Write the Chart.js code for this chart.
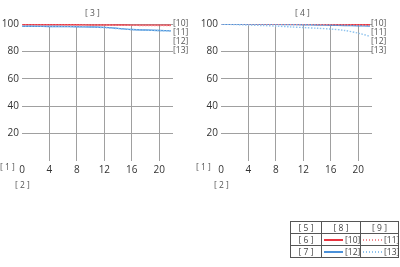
<!DOCTYPE html>
<html><head><meta charset="utf-8">
<script src="https://cdn.jsdelivr.net/npm/chart.js@4/dist/chart.umd.min.js"></script>
<style>
body{margin:0;width:400px;height:267px;background:#fff;position:relative;font-family:"Open Sans",sans-serif;color:#333;overflow:hidden}
.box{position:absolute}
.t{position:absolute;font-size:8.5px;color:#555;white-space:nowrap}
.c{position:absolute;font-size:8.5px;color:#444;white-space:nowrap;text-align:center;line-height:12px;height:12px}
.hl{position:absolute;height:1px;background:#555}
.vl{position:absolute;width:1px;background:#555}
.ln{position:absolute;height:1.5px}
</style></head><body>
<div class="box" style="left:0;top:0;width:200px;height:182px"><canvas id="c1"></canvas></div>
<div class="box" style="left:199px;top:0;width:200px;height:182px"><canvas id="c2"></canvas></div>
<div class="t" style="left:85px;top:7px">[ 3 ]</div>
<div class="t" style="left:295px;top:7px">[ 4 ]</div>
<div class="t" style="left:0px;top:161px">[ 1 ]</div>
<div class="t" style="left:15px;top:179px">[ 2 ]</div>
<div class="t" style="left:196px;top:161px">[ 1 ]</div>
<div class="t" style="left:214px;top:179px">[ 2 ]</div>
<div class="t" style="left:173px;top:17px">[10]</div>
<div class="t" style="left:173px;top:26px">[11]</div>
<div class="t" style="left:173px;top:35px">[12]</div>
<div class="t" style="left:173px;top:44px">[13]</div>
<div class="t" style="left:371px;top:17px">[10]</div>
<div class="t" style="left:371px;top:26px">[11]</div>
<div class="t" style="left:371px;top:35px">[12]</div>
<div class="t" style="left:371px;top:44px">[13]</div>
<!-- legend table -->
<div class="hl" style="left:290px;top:221px;width:109px"></div>
<div class="hl" style="left:290px;top:233px;width:109px"></div>
<div class="hl" style="left:290px;top:245px;width:109px"></div>
<div class="hl" style="left:290px;top:257px;width:109px"></div>
<div class="vl" style="left:290px;top:221px;height:37px"></div>
<div class="vl" style="left:321px;top:221px;height:37px"></div>
<div class="vl" style="left:360px;top:221px;height:37px"></div>
<div class="vl" style="left:398px;top:221px;height:37px"></div>
<div class="c" style="left:291px;top:222px;width:30px">[ 5 ]</div>
<div class="c" style="left:322px;top:222px;width:38px">[ 8 ]</div>
<div class="c" style="left:361px;top:222px;width:37px">[ 9 ]</div>
<div class="c" style="left:291px;top:234px;width:30px">[ 6 ]</div>
<div class="c" style="left:291px;top:246px;width:30px">[ 7 ]</div>
<div class="ln" style="left:324px;top:239px;width:19px;background:#e8333f"></div>
<div class="c" style="left:345px;top:234px">[10]</div>
<div class="ln" style="left:363px;top:239px;width:19px;background:repeating-linear-gradient(90deg,#f08a90 0 1.5px,transparent 1.5px 3px)"></div>
<div class="c" style="left:384px;top:234px">[11]</div>
<div class="ln" style="left:324px;top:251px;width:19px;background:#4a90d9"></div>
<div class="c" style="left:345px;top:246px">[12]</div>
<div class="ln" style="left:363px;top:251px;width:19px;background:repeating-linear-gradient(90deg,#8ec3ee 0 1.5px,transparent 1.5px 3px)"></div>
<div class="c" style="left:384px;top:246px">[13]</div>
<script>
const xs = [0, 2, 4, 6, 8, 10, 12, 14, 16, 18, 20, 21.7];
const xTicks = [0, 4, 8, 12, 16, 20];
const yTicks = [0, 20, 40, 60, 80, 100];
// chart [3]
const l_s10 = [99.4, 99.4, 99.4, 99.4, 99.4, 99.3, 99.3, 99.3, 99.2, 99.2, 99.2, 99.1];
const l_s11 = [99.2, 99.2, 99.2, 99.2, 99.1, 99.1, 99.1, 99.0, 99.0, 98.9, 98.9, 98.9];
const l_s12 = [98.3, 98.3, 98.2, 98.1, 98.0, 97.8, 97.5, 96.8, 96.0, 95.6, 95.3, 95.0];
const l_s13 = [98.6, 98.5, 98.4, 98.3, 98.1, 97.8, 97.3, 96.6, 95.9, 95.5, 95.2, 94.9];
// chart [4]
const r_s10 = [99.9, 99.9, 99.9, 99.9, 99.9, 99.9, 99.8, 99.8, 99.7, 99.6, 99.5, 99.4];
const r_s11 = [99.8, 99.8, 99.8, 99.8, 99.8, 99.7, 99.6, 99.5, 99.4, 99.3, 99.1, 99.0];
const r_s12 = [99.8, 99.8, 99.8, 99.7, 99.7, 99.6, 99.5, 99.3, 99.1, 98.9, 98.7, 98.5];
const r_s13 = [99.9, 99.6, 99.2, 98.9, 98.5, 97.9, 97.4, 96.9, 96.3, 95.3, 93.3, 91.0];

const C10='#e8333f', C11='#f08a90', C12='#4a90d9', C13='#8ec3ee';
function ds(vals,color,dotted){
  return {data: xs.map((x,i)=>({x:x,y:vals[i]})), borderColor:color, borderWidth:1.4,
    borderDash: dotted?[1.5,1.5]:[], pointRadius:0, tension:0.3, fill:false};
}
function make(id, sets, yw){
  new Chart(document.getElementById(id), {
    type:'line',
    data:{datasets:[ds(sets[3],C13,true),ds(sets[1],C11,true),ds(sets[2],C12,false),ds(sets[0],C10,false)]},
    options:{responsive:true, maintainAspectRatio:false, animation:false,
      layout:{padding:{top:24,right:27,left:0,bottom:0}},
      plugins:{legend:{display:false},tooltip:{enabled:false}},
      scales:{
        x:{type:'linear',min:0,max:22,border:{display:false},
          afterBuildTicks:s=>{s.ticks=xTicks.map(v=>({value:v}));},
          afterFit:s=>{s.height=21;},
          grid:{color:c=>c.tick&&c.tick.value>0?'#a0a0a0':'rgba(0,0,0,0)',lineWidth:1,drawTicks:false},
          ticks:{padding:3,color:'#333',font:{family:'Open Sans',size:10},maxRotation:0,autoSkip:false}},
        y:{min:0,max:100,border:{display:false},
          afterBuildTicks:s=>{s.ticks=yTicks.map(v=>({value:v}));},
          afterFit:s=>{s.width=yw;},
          grid:{color:c=>c.tick&&c.tick.value>0?'#a0a0a0':'rgba(0,0,0,0)',lineWidth:1,drawTicks:false},
          ticks:{padding:3,color:'#333',font:{family:'Open Sans',size:10},callback:v=>v===0?'':v}}
      }}
  });
}
make('c1',[l_s10,l_s11,l_s12,l_s13],22);
make('c2',[r_s10,r_s11,r_s12,r_s13],22);
</script>
</body></html>
